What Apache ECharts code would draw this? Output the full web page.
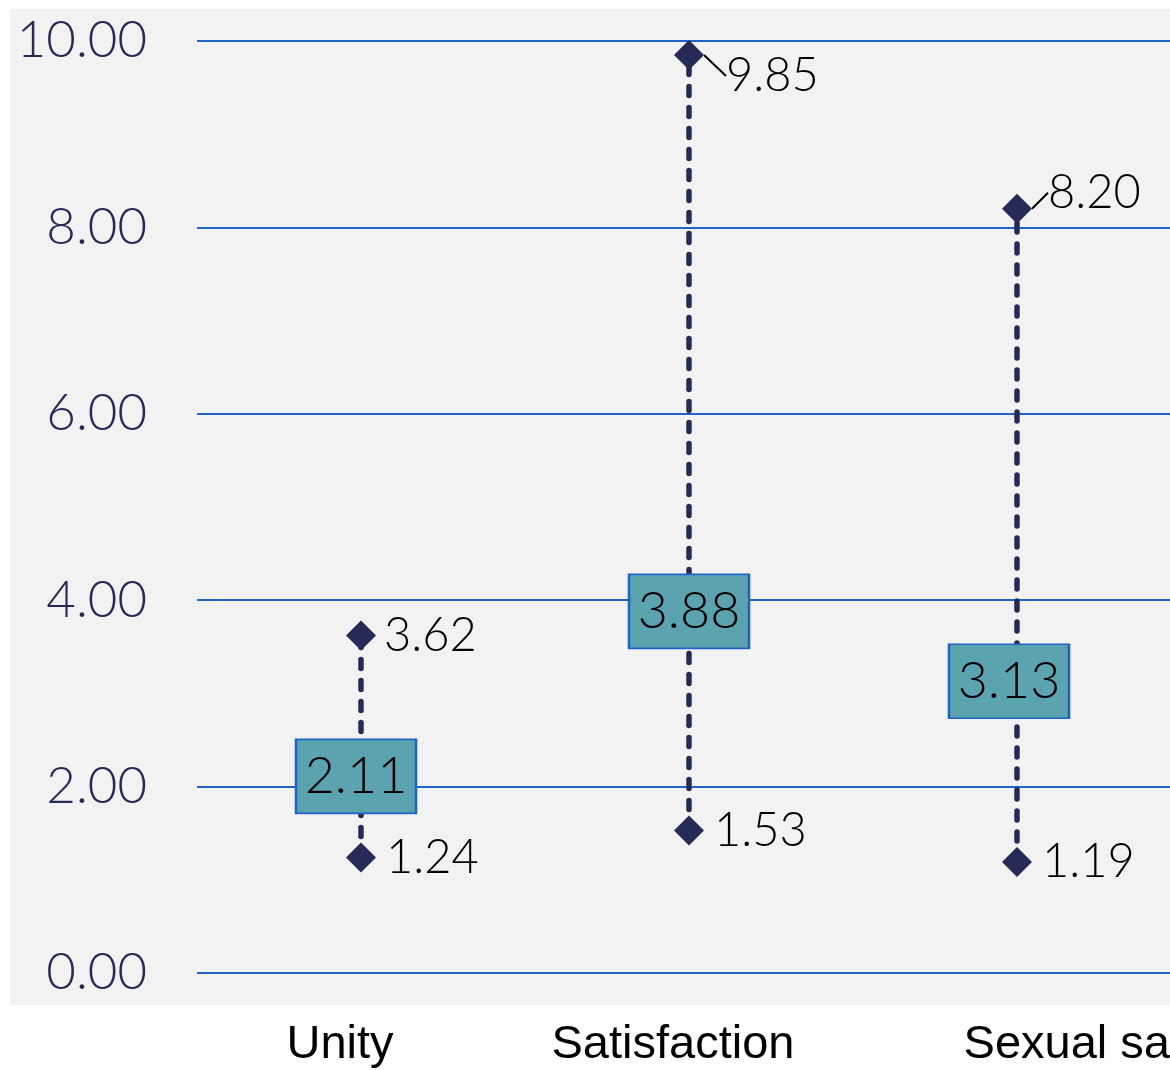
<!DOCTYPE html>
<html>
<head>
<meta charset="utf-8">
<script src="https://cdn.jsdelivr.net/npm/echarts@6/dist/echarts.min.js"></script>
<style>
  html, body { margin: 0; padding: 0; background: #ffffff; }
  #chart { width: 1170px; height: 1070px; }
</style>
</head>
<body>
<div id="chart"></div>
<script>
// values
var categories = ['Unity', 'Satisfaction', 'Sexual satisfaction']
var maxValues = [3.62, 9.85, 8.20]
var minValues = [1.24, 1.53, 1.19]
var meanValues = [2.11, 3.88, 3.13]
var yTicks = [0, 2, 4, 6, 8, 10]

var navy = '#262a56'
var gridBlue = '#1f63c9'
var numFont = 'Lato'
var catFont = 'Liberation Sans'

var rangeData = categories.map(function (c, i) {
  return [i, minValues[i], maxValues[i]]
})

// leader lines only on the labels that were pushed off the marker
var maxData = maxValues.map(function (v, i) {
  return { value: v, labelLine: { show: i > 0 } }
})

// the mean boxes sit a little left of the whisker in the original
var boxShift = [-5, 0, -8]
var meanData = meanValues.map(function (v, i) {
  return { value: v, symbolOffset: [boxShift[i], 0] }
})

function fmt (p) {
  return Number(p.value).toFixed(2)
}

var myChart = echarts.init(document.getElementById('chart'))
myChart.setOption({
  backgroundColor: '#ffffff',
  animation: false,
  graphic: [{
    type: 'rect',
    z: -10,
    silent: true,
    shape: { x: 10, y: 9, width: 1170, height: 996 },
    style: { fill: '#f2f2f2' }
  }],
  grid: {
    left: 197,
    top: 41,
    width: 984,
    bottom: 97,
    outerBoundsMode: 'none',
    containLabel: false
  },
  xAxis: {
    type: 'category',
    data: categories,
    axisLine: { show: false },
    axisTick: { show: false },
    axisLabel: {
      interval: 0,
      margin: 49,
      hideOverlap: false,
      formatter: function (v, i) {
        return ['{u|' + v + '}', '{s|' + v + '}', '{x|' + v + '}'][i]
      },
      rich: {
        u: { fontFamily: catFont, fontSize: 47, color: '#000', padding: [0, 42, 0, 0] },
        s: { fontFamily: catFont, fontSize: 47, color: '#000', padding: [0, 32, 0, 0] },
        x: { fontFamily: catFont, fontSize: 47, color: '#000', padding: [0, 0, 0, 285] }
      }
    }
  },
  yAxis: {
    type: 'value',
    min: yTicks[0],
    max: yTicks[yTicks.length - 1],
    interval: 2,
    axisLine: { show: false },
    axisTick: { show: false },
    splitLine: { lineStyle: { color: gridBlue, width: 2 } },
    axisLabel: {
      margin: 50,
      fontFamily: numFont,
      fontWeight: 300,
      fontSize: 51,
      color: navy,
      formatter: function (v) { return v.toFixed(2) }
    }
  },
  series: [{
    type: 'custom',
    z: 1,
    data: rangeData,
    renderItem: function (params, api) {
      var lo = api.coord([api.value(0), api.value(1)])
      var hi = api.coord([api.value(0), api.value(2)])
      return {
        type: 'line',
        shape: { x1: lo[0], y1: lo[1], x2: hi[0], y2: hi[1] },
        style: { stroke: navy, lineWidth: 5.5, lineDash: [9, 12], lineCap: 'round' }
      }
    }
  }, {
    type: 'scatter',
    z: 3,
    symbol: 'diamond',
    symbolSize: 30,
    itemStyle: { color: navy, opacity: 1 },
    data: maxData,
    label: {
      show: true,
      position: 'right',
      distance: 8,
      fontFamily: numFont,
      fontWeight: 300,
      fontSize: 47,
      color: '#000',
      formatter: fmt
    },
    labelLine: { lineStyle: { color: '#000', width: 2 } },
    labelLayout: function (p) {
      if (p.dataIndex === 1) return { dx: 14, dy: 21 }
      if (p.dataIndex === 2) return { dx: 8, dy: -16 }
      return {}
    }
  }, {
    type: 'scatter',
    z: 3,
    symbol: 'diamond',
    symbolSize: 30,
    itemStyle: { color: navy, opacity: 1 },
    data: minValues,
    label: {
      show: true,
      position: 'right',
      distance: 10,
      fontFamily: numFont,
      fontWeight: 300,
      fontSize: 47,
      color: '#000',
      formatter: fmt
    }
  }, {
    type: 'scatter',
    z: 4,
    symbol: 'rect',
    symbolSize: [120, 74],
    itemStyle: { color: '#5ba3ae', borderColor: gridBlue, borderWidth: 2, opacity: 1 },
    data: meanData,
    label: {
      show: true,
      position: 'inside',
      fontFamily: numFont,
      fontWeight: 300,
      fontSize: 52,
      color: '#000',
      formatter: fmt
    }
  }]
})
</script>
</body>
</html>
